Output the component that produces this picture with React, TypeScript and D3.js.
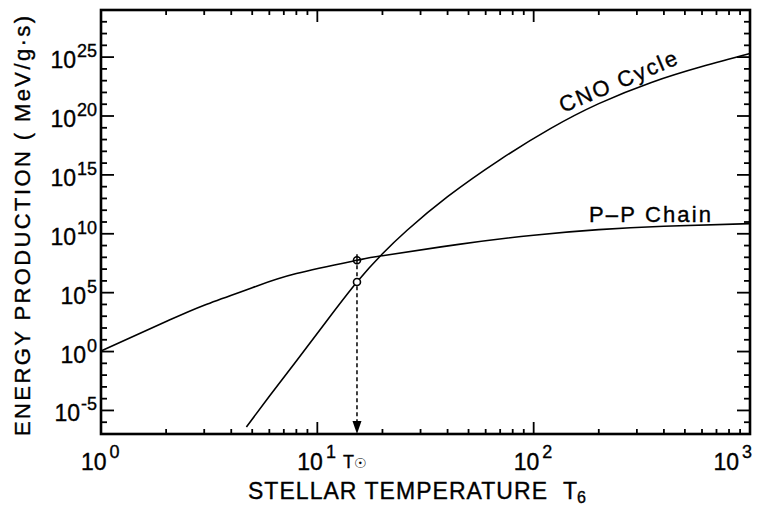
import React from "react";
import * as d3 from "d3";

// Stellar temperature T6 (millions of K) and log10 of energy production (MeV/g·s)
const ppTemps = [1, 2, 3, 5, 8, 15.25, 20, 45, 100, 200, 400, 1000];
const ppLogEps = [0.05, 2.55, 3.94, 5.42, 6.62, 7.75, 8.14, 9.1, 9.88, 10.35, 10.64, 10.86];

const cnoTemps = [4.7, 6, 8, 11, 15.25, 20, 26, 40, 70, 120, 200, 350, 600, 1000];
const cnoLogEps = [-6.4, -3.8, -0.8, 2.55, 5.9, 8.3, 10.3, 13.15, 16.3, 18.95, 21.05, 22.85, 24.2, 25.3];

const sunTemp = 15.25;
const sunPP = 7.75;
const sunCNO = 5.9;

const xTickExps = [0, 1, 2, 3];
const yTickExps = [-5, 0, 5, 10, 15, 20, 25];

const W = 762;
const H = 507;
const L = 101, R = 750, T = 10, B = 434;

export default function App() {
  const x = d3.scaleLog().domain([1, 1000]).range([L, R]);
  const y = d3.scaleLog().domain([1e-7, 1e29]).range([B, T]);
  const yl = (e: number) => y(Math.pow(10, e));

  const line = d3
    .line<[number, number]>()
    .x((d) => x(d[0]))
    .y((d) => yl(d[1]))
    .curve(d3.curveNatural);

  const ppPath = line(ppTemps.map((t, i) => [t, ppLogEps[i]]));
  const cnoPath = line(cnoTemps.map((t, i) => [t, cnoLogEps[i]]));

  const xMinor: number[] = [];
  const xMajor: number[] = [];
  [1, 10, 100].forEach((dec) => {
    for (let k = 2; k <= 9; k++) xMinor.push(dec * k);
    if (dec > 1) xMajor.push(dec);
  });
  const yMinor: number[] = [];
  const yMajor: number[] = [];
  for (let e = -6; e <= 28; e++) {
    if (e % 5 === 0) yMajor.push(e);
    else yMinor.push(e);
  }

  const font = "'Liberation Sans', Arial, Helvetica, sans-serif";
  const sx = x(sunTemp);
  const txt = { fill: "#000", stroke: "#000", strokeWidth: 0.35 };

  return (
    <svg
      width={W}
      height={H}
      style={{ position: "absolute", left: 0, top: 0, background: "#fff" }}
      fontFamily={font}
    >
      <rect x={0} y={0} width={W} height={H} fill="#fff" />
      <g stroke="#000" strokeWidth={1.8}>
        {xMinor.map((t) => (
          <g key={"xm" + t}>
            <line x1={x(t)} x2={x(t)} y1={B} y2={B - 5} />
            <line x1={x(t)} x2={x(t)} y1={T} y2={T + 5} />
          </g>
        ))}
        {xMajor.map((t) => (
          <g key={"xM" + t}>
            <line x1={x(t)} x2={x(t)} y1={B} y2={B - 12} />
            <line x1={x(t)} x2={x(t)} y1={T} y2={T + 12} />
          </g>
        ))}
        {yMinor.map((e) => (
          <g key={"ym" + e}>
            <line x1={L} x2={L + 6} y1={yl(e)} y2={yl(e)} />
            <line x1={R} x2={R - 6} y1={yl(e)} y2={yl(e)} />
          </g>
        ))}
        {yMajor.map((e) => (
          <g key={"yM" + e}>
            <line x1={L} x2={L + 13} y1={yl(e)} y2={yl(e)} />
            <line x1={R} x2={R - 13} y1={yl(e)} y2={yl(e)} />
          </g>
        ))}
      </g>
      <rect x={L} y={T} width={R - L} height={B - T} fill="none" stroke="#000" strokeWidth={2.6} />

      <path d={ppPath || ""} fill="none" stroke="#000" strokeWidth={1.6} />
      <path d={cnoPath || ""} fill="none" stroke="#000" strokeWidth={1.6} />

      {/* sun marker */}
      <line x1={sx} x2={sx} y1={yl(sunPP) + 5} y2={B - 12} stroke="#000" strokeWidth={1.5} strokeDasharray="4,3" />
      <line x1={sx} x2={sx} y1={yl(sunPP) - 6} y2={yl(sunPP) + 4} stroke="#000" strokeWidth={1.5} />
      <polygon points={`${sx},${B} ${sx - 4.5},${B - 13} ${sx + 4.5},${B - 13}`} fill="#000" />
      <circle cx={sx} cy={yl(sunPP)} r={3.5} fill="none" stroke="#000" strokeWidth={1.6} />
      <circle cx={sx} cy={yl(sunCNO)} r={3.5} fill="#fff" stroke="#000" strokeWidth={1.6} />

      {/* y tick labels */}
      {yTickExps.map((e) => (
        <text key={"yl" + e} x={97} y={yl(e) + 11} textAnchor="end" fontSize={23} {...txt}>
          10
          <tspan fontSize={18} dx={1} dy={-11}>
            {e}
          </tspan>
        </text>
      ))}
      {/* x tick labels */}
      {xTickExps.map((e) => {
        const tx = x(Math.pow(10, e));
        const last = e === 3;
        return (
          <text
            key={"xl" + e}
            x={last ? R + 2 : tx - 20}
            y={470}
            fontSize={23}
            textAnchor={last ? "end" : "start"}
            {...txt}
          >
            10
            <tspan fontSize={18} dx={3} dy={-12}>
              {e}
            </tspan>
          </text>
        );
      })}
      <text x={343} y={468} fontSize={18} {...txt}>
        T
      </text>
      <text x={354} y={468} fontSize={14} fontFamily="'DejaVu Sans', sans-serif" fill="#000">
        ☉
      </text>

      {/* axis titles */}
      <text x={248} y={499} fontSize={23} textLength={299} lengthAdjust="spacing" {...txt}>
        STELLAR TEMPERATURE
      </text>
      <text x={563} y={499} fontSize={23} {...txt}>
        T
      </text>
      <text x={577} y={503} fontSize={16} {...txt}>
        6
      </text>
      <text
        transform="translate(30,226) rotate(-90)"
        fontSize={22}
        textAnchor="middle"
        textLength={420}
        lengthAdjust="spacing"
        {...txt}
      >
        ENERGY PRODUCTION ( MeV/g·s)
      </text>

      {/* curve labels */}
      <text
        transform="translate(563,113) rotate(-23)"
        fontSize={22}
        textLength={126}
        lengthAdjust="spacing"
        {...txt}
      >
        CNO  Cycle
      </text>
      <text x={589} y={222} fontSize={22} textLength={122} lengthAdjust="spacing" {...txt}>
        P–P  Chain
      </text>
    </svg>
  );
}
